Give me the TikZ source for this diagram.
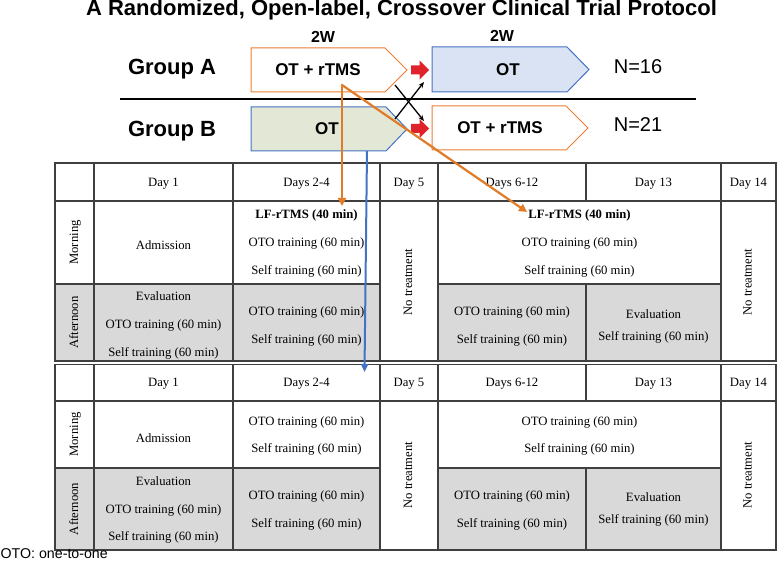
\documentclass[tikz,border=0pt]{standalone}
\usepackage{fontspec}
\setmainfont{Liberation Serif}
\newfontfamily\arial{Liberation Sans}
\usetikzlibrary{arrows.meta}
\definecolor{tline}{HTML}{3F3F3F}
\definecolor{grayfill}{HTML}{D9D9D9}
\definecolor{obord}{HTML}{ED7D31}
\definecolor{bbord}{HTML}{4472C4}
\definecolor{bfill}{HTML}{DAE3F3}
\definecolor{gfill}{HTML}{E2E8D5}
\definecolor{redarr}{HTML}{E0232B}
\definecolor{oarrc}{HTML}{E07B28}
\definecolor{barrc}{HTML}{4472C4}
\begin{document}
\begin{tikzpicture}[x=1pt,y=-1pt,
  cell/.style={font=\fontsize{12.7}{14}\selectfont, inner sep=0pt, text height=8.8pt, text depth=2.6pt},
  bcell/.style={cell, font=\fontsize{12.7}{14}\selectfont\bfseries},
  rot/.style={cell, rotate=90},
  tl/.style={draw=tline, line width=1.1pt},
  ttl/.style={font=\arial\bfseries\fontsize{22}{26}\selectfont, inner sep=0pt},
  grp/.style={font=\arial\bfseries\fontsize{22}{26}\selectfont, inner sep=0pt},
  btxt/.style={font=\arial\bfseries\fontsize{17}{20}\selectfont, inner sep=0pt},
  wk/.style={font=\arial\bfseries\fontsize{16}{19}\selectfont, inner sep=0pt},
  nlab/.style={font=\arial\fontsize{20}{24}\selectfont, inner sep=0pt},
  foot/.style={font=\arial\fontsize{14.2}{17}\selectfont, inner sep=0pt},
  obox/.style={draw=obord, line width=1pt, fill=white},
  bbox/.style={draw=bbord, line width=1pt},
  redblk/.style={fill=redarr, draw=none},
  crossarr/.style={draw=black, line width=1.3pt, -{Stealth[length=6pt,width=5pt]}},
  oarr/.style={draw=oarrc, line width=2.2pt, -{Triangle[length=8pt,width=8pt]}},
  barr/.style={draw=barrc, line width=2pt, -{Triangle[length=8pt,width=7pt]}}
]
\useasboundingbox (0,0) rectangle (777,561);
\fill[white] (0,0) rectangle (777,561);

% ---------------- Title and groups ----------------
\node[ttl, anchor=base] (title) at (401.5,16) {A Randomized, Open-label, Crossover Clinical Trial Protocol};
\node[wk] (w1) at (323,37) {2W};
\node[wk] (w2) at (502,36) {2W};
\node[grp] (ga) at (172,69) {Group A};
\node[grp] (gb) at (172,131) {Group B};

% boxes
\draw[obox] (251,48) -- (385,48) -- (407,70) -- (385,92) -- (251,92) -- cycle;
\draw[bbox, fill=bfill] (432,47) -- (567,47) -- (589,69.5) -- (567,92) -- (432,92) -- cycle;
\draw[bbox, fill=gfill] (251,107) -- (386,107) -- (407,129) -- (386,151) -- (251,151) -- cycle;
\draw[obox] (432,106) -- (566,106) -- (588,128) -- (566,150) -- (432,150) -- cycle;
\node[btxt] (a1) at (318,70) {OT + rTMS};
\node[btxt] (a2) at (508,70) {OT};
\node[btxt] (b1) at (327,129) {OT};
\node[btxt] (b2) at (500,128) {OT + rTMS};
\node[nlab] (n16) at (638,67) {N=16};
\node[nlab] (n21) at (638,124.5) {N=21};

\draw[black, line width=1.6pt] (120,99) -- (696,99);

% red block arrows
\fill[redblk] (411,65.5) -- (419.5,65.5) -- (419.5,60.5) -- (429,70) -- (419.5,79.5) -- (419.5,74.5) -- (411,74.5) -- cycle;
\fill[redblk] (411,124) -- (419.5,124) -- (419.5,119) -- (429,128.5) -- (419.5,138) -- (419.5,133) -- (411,133) -- cycle;

% cross arrows
\coordinate (xa1) at (395,85);
\coordinate (xa2) at (424,121);
\coordinate (xb1) at (395,119);
\coordinate (xb2) at (424,82);
\draw[crossarr] (xa1) -- (xa2);
\draw[crossarr] (xb1) -- (xb2);

% ---------------- Table 1 ----------------
\fill[grayfill] (55,284) rectangle (380,361);
\fill[grayfill] (438,284) rectangle (721,361);
\draw[tl] (55,163) rectangle (776,361);
\draw[tl] (55,201) -- (776,201);
\draw[tl] (55,284) -- (380,284);
\draw[tl] (438,284) -- (721,284);
\draw[tl] (94,163) -- (94,361);
\draw[tl] (233,163) -- (233,361);
\draw[tl] (380,163) -- (380,361);
\draw[tl] (438,163) -- (438,361);
\draw[tl] (586,163) -- (586,201);
\draw[tl] (586,284) -- (586,361);
\draw[tl] (721,163) -- (721,361);

\node[cell] (h1a) at (163.5,183) {Day 1};
\node[cell] (h1b) at (306.5,183) {Days 2-4};
\node[cell] (h1c) at (409,183) {Day 5};
\node[cell] (h1d) at (512,183) {Days 6-12};
\node[cell] (h1e) at (653.5,183) {Day 13};
\node[cell] (h1f) at (748.5,183) {Day 14};
\node[rot] (m1) at (75,242.5) {Morning};
\node[rot] (af1) at (75,322.5) {Afternoon};
\node[cell] (adm1) at (163.5,246) {Admission};
\node[cell] (ev1) at (163.5,297) {Evaluation};
\node[cell] (oto1a) at (163.5,325) {OTO training (60 min)};
\node[cell] (st1a) at (163.5,353) {Self training (60 min)};
\node[bcell] (lf1) at (306.5,215) {LF-rTMS (40 min)};
\node[cell] (oto1b) at (306.5,243) {OTO training (60 min)};
\node[cell] (st1b) at (306.5,271) {Self training (60 min)};
\node[cell] (oto1c) at (306.5,312) {OTO training (60 min)};
\node[cell] (st1c) at (306.5,340) {Self training (60 min)};
\node[rot] (nt1a) at (409,282) {No treatment};
\node[bcell] (lf2) at (579.5,215) {LF-rTMS (40 min)};
\node[cell] (oto1d) at (579.5,243) {OTO training (60 min)};
\node[cell] (st1d) at (579.5,271) {Self training (60 min)};
\node[cell] (oto1e) at (512,312) {OTO training (60 min)};
\node[cell] (st1e) at (512,340) {Self training (60 min)};
\node[cell] (ev1b) at (653.5,315) {Evaluation};
\node[cell] (st1f) at (653.5,337) {Self training (60 min)};
\node[rot] (nt1b) at (748.5,282) {No treatment};

% ---------------- Table 2 ----------------
\fill[grayfill] (55,468) rectangle (380,550);
\fill[grayfill] (438,468) rectangle (721,550);
\draw[tl] (55,364.5) rectangle (776,550);
\draw[tl] (55,401) -- (776,401);
\draw[tl] (55,468) -- (380,468);
\draw[tl] (438,468) -- (721,468);
\draw[tl] (94,364.5) -- (94,550);
\draw[tl] (233,364.5) -- (233,550);
\draw[tl] (380,364.5) -- (380,550);
\draw[tl] (438,364.5) -- (438,550);
\draw[tl] (586,364.5) -- (586,401);
\draw[tl] (586,468) -- (586,550);
\draw[tl] (721,364.5) -- (721,550);

\node[cell] (h2a) at (163.5,383) {Day 1};
\node[cell] (h2b) at (306.5,383) {Days 2-4};
\node[cell] (h2c) at (409,383) {Day 5};
\node[cell] (h2d) at (512,383) {Days 6-12};
\node[cell] (h2e) at (653.5,383) {Day 13};
\node[cell] (h2f) at (748.5,383) {Day 14};
\node[rot] (m2) at (75,434.5) {Morning};
\node[rot] (af2) at (75,509) {Afternoon};
\node[cell] (adm2) at (163.5,439) {Admission};
\node[cell] (ev2) at (163.5,482) {Evaluation};
\node[cell] (oto2a) at (163.5,510) {OTO training (60 min)};
\node[cell] (st2a) at (163.5,537) {Self training (60 min)};
\node[cell] (oto2b) at (306.5,422) {OTO training (60 min)};
\node[cell] (st2b) at (306.5,449) {Self training (60 min)};
\node[cell] (oto2c) at (306.5,496) {OTO training (60 min)};
\node[cell] (st2c) at (306.5,524) {Self training (60 min)};
\node[rot] (nt2a) at (409,475) {No treatment};
\node[cell] (oto2d) at (579.5,422) {OTO training (60 min)};
\node[cell] (st2d) at (579.5,449) {Self training (60 min)};
\node[cell] (oto2e) at (512,496) {OTO training (60 min)};
\node[cell] (st2e) at (512,524) {Self training (60 min)};
\node[cell] (ev2b) at (653.5,498) {Evaluation};
\node[cell] (st2f) at (653.5,520) {Self training (60 min)};
\node[rot] (nt2b) at (748.5,475) {No treatment};

\node[foot, anchor=west] (fn) at (0.5,554) {OTO: one-to-one};

% ---------------- arrows ----------------
\coordinate (oc) at (342,85);
\coordinate (ot1) at (342,206);
\coordinate (ot2) at (527,212);
\draw[oarr] (oc) -- (ot1);
\draw[oarr, shorten <=-0.8pt] (oc) -- (ot2);
\coordinate (bs) at (367,151);
\coordinate (bt) at (364.5,372);
\draw[barr] (bs) -- (bt);
\end{tikzpicture}
\end{document}
